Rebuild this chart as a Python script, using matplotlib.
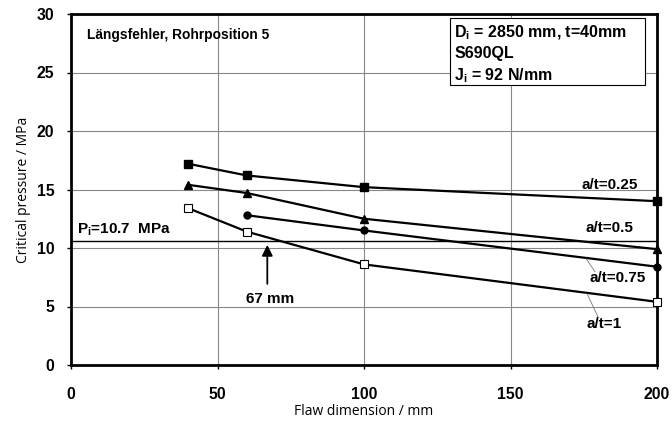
import matplotlib
matplotlib.use("Agg")
import matplotlib.pyplot as plt
from matplotlib.patches import Rectangle

# flaw dimension (mm) and critical pressure (MPa) per a/t
x_025 = [40, 60, 100, 200]
p_025 = [17.2, 16.2, 15.2, 14.0]
x_05 = [40, 60, 100, 200]
p_05 = [15.4, 14.7, 12.5, 9.9]
x_075 = [60, 100, 200]
p_075 = [12.8, 11.5, 8.4]
x_1 = [40, 60, 100, 200]
p_1 = [13.4, 11.4, 8.6, 5.4]
p_i = 10.6
crit_len = 67

xticks = [0, 50, 100, 150, 200]
yticks = [0, 5, 10, 15, 20, 25, 30]

fig = plt.figure(figsize=(6.72, 4.28), dpi=100)
ax = fig.add_axes([71/672, 1 - 365/428, 586/672, 351/428])

ax.plot(x_025, p_025, color="black", lw=1.6, marker="s", ms=5.5, mfc="black", zorder=3, clip_on=False)
ax.plot(x_05, p_05, color="black", lw=1.6, marker="^", ms=6, mfc="black", zorder=3, clip_on=False)
ax.plot(x_075, p_075, color="black", lw=1.6, marker="o", ms=5, mfc="black", zorder=3, clip_on=False)
ax.plot(x_1, p_1, color="black", lw=1.6, marker="s", ms=6, mfc="white", mew=0.8, zorder=3, clip_on=False)

ax.axhline(p_i, color="black", lw=1.0, zorder=2)

ax.set_xlim(0, 200)
ax.set_ylim(0, 30)
ax.set_xticks(xticks)
ax.set_yticks(yticks)
ax.grid(True, color="#888888", lw=0.8)
for s in ax.spines.values():
    s.set_linewidth(2)
ax.tick_params(axis="x", length=3, width=1, pad=13)
ax.tick_params(axis="y", length=3, width=1, pad=9)
for lab in ax.get_xticklabels() + ax.get_yticklabels():
    lab.set_fontfamily("Liberation Sans")
    lab.set_fontweight("bold")
    lab.set_fontsize(11.3)

ax.set_xlabel("Flaw dimension / mm", fontfamily="Open Sans", fontsize=10, labelpad=1)
ax.set_ylabel("Critical pressure / MPa", fontfamily="Open Sans", fontsize=10, labelpad=4)

bold = dict(fontfamily="Liberation Sans", fontweight="bold", fontsize=11)
ax.text(5.5, 28.2, "Längsfehler, Rohrposition 5", va="center",
        fontfamily="Liberation Sans", fontweight="bold", fontsize=9.9)

# info box
ax.add_patch(Rectangle((129.4, 23.9), 66.6, 5.75, fc="white", ec="black", lw=0.8, zorder=4))
ax.text(130.8, 26.55, "D$_\\mathregular{i}$ = 2850 mm, t=40mm\nS690QL\nJ$_\\mathregular{i}$ = 92 N/mm",
        va="center", ha="left", linespacing=1.35, zorder=5,
        fontfamily="Liberation Sans", fontweight="bold", fontsize=11.5)

ax.text(2, 11.6, "P$_\\mathregular{i}$=10.7  MPa", va="center", **bold)
ax.annotate("", xy=(crit_len, 10.5), xytext=(crit_len, 6.7),
            arrowprops=dict(arrowstyle="-|>", color="black", lw=1.3, mutation_scale=16))
ax.text(crit_len + 1, 5.6, "67 mm", ha="center", va="center", **bold)

ax.text(193.5, 15.4, "a/t=0.25", ha="right", va="center", **bold)
ax.text(192, 11.7, "a/t=0.5", ha="right", va="center", **bold)
ax.text(196, 7.4, "a/t=0.75", ha="right", va="center", **bold)
ax.text(188, 3.5, "a/t=1", ha="right", va="center", **bold)
ax.annotate("", xy=(175.8, 9.1), xytext=(178.9, 7.95),
            arrowprops=dict(arrowstyle="-", color="#777777", lw=0.6, shrinkA=0, shrinkB=0))
ax.annotate("", xy=(176.1, 6.1), xytext=(179.9, 4.1),
            arrowprops=dict(arrowstyle="-", color="#777777", lw=0.6, shrinkA=0, shrinkB=0))

fig.savefig("out.png", dpi=100)
